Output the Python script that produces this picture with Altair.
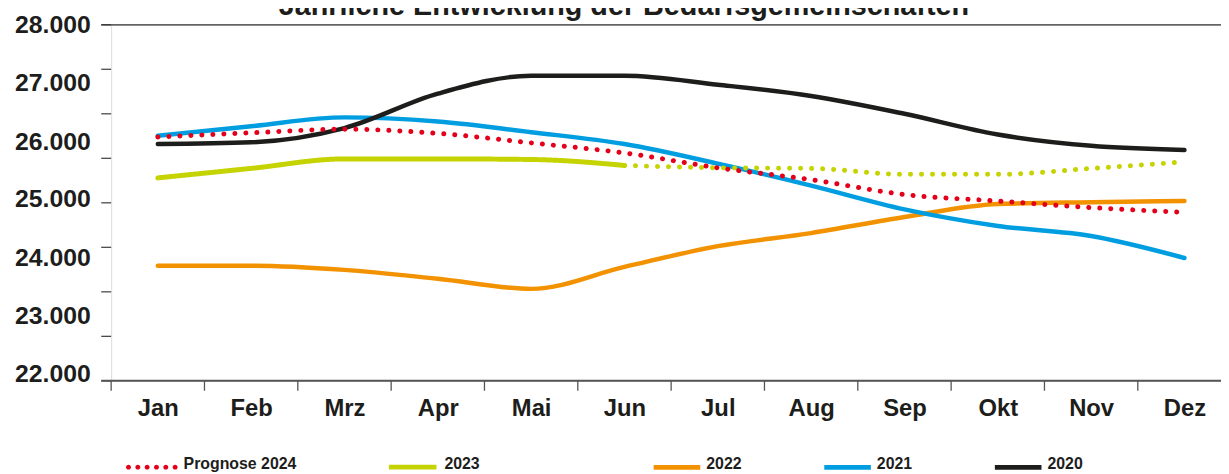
import json
import altair as alt
import pandas as pd

# ---------------- data ----------------
title_text = "Jährliche Entwicklung der Bedarfsgemeinschaften"
months = ["Jan", "Feb", "Mrz", "Apr", "Mai", "Jun", "Jul", "Aug", "Sep", "Okt", "Nov", "Dez"]

prognose_2024 = [26110, 26180, 26240, 26170, 26010, 25840, 25590, 25390, 25140, 25030, 24920, 24840]
werte_2023 = [25420, 25580, 25740, 25740, 25730, 25630]                 # Jan - Jun
werte_2023_rest = [25630, 25590, 25580, 25480, 25480, 25580, 25690]     # Jun - Dez (punktiert)
werte_2022 = [23940, 23940, 23870, 23720, 23550, 23920, 24270, 24490, 24760, 24980, 25010, 25030]
werte_2021 = [26130, 26290, 26440, 26370, 26190, 25990, 25660, 25290, 24890, 24610, 24440, 24070]
werte_2020 = [25990, 26020, 26260, 26840, 27140, 27140, 26990, 26800, 26500, 26150, 25960, 25890]

y_labels = [22000, 23000, 24000, 25000, 26000, 27000, 28000]
y_tick_marks = [22000, 22750, 23500, 24250, 25000, 25750, 26500, 27250, 28000]

series_a = ["Prognose 2024", "2023"]
series_b = ["2022", "2021", "2020"]

# ---------------- styles ----------------
FONT = "Liberation Sans"
TXT = "#1d1d1b"
RED, GREEN, ORANGE, BLUE, BLACK = "#e2001a", "#c5d300", "#f39200", "#009ee0", "#1d1d1b"
BG = "#f2f5dc"
W, H = 1119, 359
BAND = 94.1

label_shift = {28000: 0, 27000: -1.5, 26000: -2.2, 25000: -4.5, 24000: -4.8, 23000: -6, 22000: -7.5}

# legend symbol shapes (unit coordinates)
R = 0.096
DY_A = 0.115
_dots = ""
for k in range(6):
    cx = -1 + R + k * (2 - 2 * R) / 5
    _dots += f"M{cx - R:.3f},{DY_A}a{R},{R} 0 1,0 {2 * R},0a{R},{R} 0 1,0 {-2 * R},0"
DOTS_PATH = _dots
BAR_A_PATH = f"M-0.923,{DY_A - 0.096:.3f}L0.923,{DY_A - 0.096:.3f}L0.923,{DY_A + 0.096:.3f}L-0.923,{DY_A + 0.096:.3f}Z"
BAR_B_PATH = "M-1,0.022L1,0.022L1,0.234L-1,0.234Z"


def rows(name, values, start=0):
    return [{"serie": name, "idx": start + i, "monat": months[start + i], "wert": v}
            for i, v in enumerate(values)]


df_a = pd.DataFrame(rows("Prognose 2024", prognose_2024) + rows("2023", werte_2023))
df_b = pd.DataFrame(rows("2022", werte_2022) + rows("2021", werte_2021) + rows("2020", werte_2020))
df_rest = pd.DataFrame(rows("2023", werte_2023_rest, start=5))

xscale = alt.Scale(domain=[-0.5, -0.5 + W / BAND], nice=False, zero=False)
yscale = alt.Scale(domain=[y_labels[0], y_labels[-1]], nice=False, zero=False)

x_axis = alt.Axis(
    values=list(range(len(months))),
    labelExpr=json.dumps(months) + "[datum.value]",
    ticks=False, tickSize=0, domain=False, grid=False, title=None,
    labelFont=FONT, labelFontSize=24, labelFontWeight="bold", labelColor=TXT,
    labelPadding=35, labelBaseline="alphabetic", labelAngle=0,
    labelFlush=False, labelOverlap=False,
)
y_axis = alt.Axis(
    values=y_labels,
    labelExpr="replace(format(datum.value, ','), ',', '.')",
    ticks=False, tickSize=0, domain=False, grid=False, title=None,
    labelFont=FONT, labelFontSize=25, labelFontWeight="bold", labelColor=TXT,
    labelPadding=21, labelBaseline="middle", labelFlush=False, labelOverlap=False,
    labelOffset={"condition": [{"test": f"datum.value == {k}", "value": v} for k, v in label_shift.items()],
                 "value": 0},
)


def X(field):
    return alt.X(field, scale=xscale, axis=x_axis)


def Y(field):
    return alt.Y(field, scale=yscale, axis=y_axis)


def legend(x, y, pad, size):
    return alt.Legend(
        orient="none", legendX=x, legendY=y, direction="horizontal", title=None,
        symbolSize=size, symbolStrokeWidth=0,
        labelFont=FONT, labelFontSize=16, labelFontWeight="bold", labelColor=TXT,
        labelOffset=6, columnPadding=pad, padding=0, rowPadding=0,
    )


leg_a = legend(15, 417, 91, 2704)
leg_b = legend(547, 419.5, 83, 2209)

# ---------------- decorations (tick marks, frame lines) ----------------
yticks = alt.Chart(pd.DataFrame({"v": y_tick_marks})).mark_rule(color="#4a4a4a", strokeWidth=1.3).encode(
    y=Y("v:Q"), x=alt.value(-10), x2=alt.value(0))
top_line = alt.Chart(pd.DataFrame({"v": [y_labels[-1]]})).mark_rule(color="#333333", strokeWidth=1.3).encode(
    y=Y("v:Q"), x=alt.value(-10), x2=alt.value(W))
bottom_line = alt.Chart(pd.DataFrame({"v": [y_labels[0]]})).mark_rule(color="#555555", strokeWidth=2).encode(
    y=Y("v:Q"), x=alt.value(-10), x2=alt.value(W))
xticks = alt.Chart(pd.DataFrame({"t": [i - 0.5 for i in range(len(months))]})).mark_rule(
    color="#555555", strokeWidth=1.3).encode(
    x=X("t:Q"), y=alt.value(H), y2=alt.value(H + 10))

# ---------------- lines ----------------
lines_b = alt.Chart(df_b).mark_line(strokeWidth=4.5, strokeCap="round", strokeJoin="round",
                                    interpolate="monotone").encode(
    x=X("idx:Q"), y=Y("wert:Q"),
    color=alt.Color("serie:N", scale=alt.Scale(domain=series_b, range=[ORANGE, BLUE, BLACK]), legend=None),
    order=alt.Order("idx:Q"),
)

rest_2023 = alt.Chart(df_rest).mark_line(strokeWidth=5, strokeCap="round", strokeDash=[0.1, 11],
                                          color=GREEN, interpolate="monotone").encode(
    x=X("idx:Q"), y=Y("wert:Q"),
)

lines_a = alt.Chart(df_a).mark_line(strokeWidth=5, strokeCap="round", strokeJoin="round",
                                    interpolate="monotone").encode(
    x=X("idx:Q"), y=Y("wert:Q"),
    color=alt.Color("serie:N", scale=alt.Scale(domain=series_a, range=[RED, GREEN]), legend=None),
    strokeDash=alt.StrokeDash("serie:N", scale=alt.Scale(domain=series_a, range=[[0.1, 11], [1, 0]]),
                              legend=None),
    order=alt.Order("idx:Q"),
)

# ---------------- legends (symbols only, no marks drawn) ----------------
empty = pd.DataFrame({"serie": pd.Series([], dtype=str)})
legend_a = alt.Chart(empty).mark_point(filled=True, opacity=1, size=2704, strokeWidth=0).encode(
    x=alt.value(0), y=alt.value(0),
    color=alt.Color("serie:N", scale=alt.Scale(domain=series_a, range=[RED, GREEN]), legend=leg_a),
    shape=alt.Shape("serie:N", scale=alt.Scale(domain=series_a, range=[DOTS_PATH, BAR_A_PATH]), legend=leg_a),
)
legend_b = alt.Chart(empty).mark_point(filled=True, opacity=1, size=2209, strokeWidth=0).encode(
    x=alt.value(0), y=alt.value(0),
    color=alt.Color("serie:N", scale=alt.Scale(domain=series_b, range=[ORANGE, BLUE, BLACK]), legend=leg_b),
    shape=alt.Shape("serie:N", scale=alt.Scale(domain=series_b, range=[BAR_B_PATH] * 3), legend=leg_b),
)

title = alt.Chart(pd.DataFrame({"t": [title_text]})).mark_text(
    font=FONT, fontSize=29, fontWeight="bold", color=TXT, align="center", baseline="alphabetic").encode(
    text="t:N", x=alt.value(517), y=alt.value(-10))

chart = alt.layer(
    yticks, top_line, bottom_line, xticks, lines_b, rest_2023, lines_a, legend_a, legend_b, title
).resolve_scale(
    color="independent", strokeDash="independent", shape="independent"
).properties(
    width=W, height=H,
    autosize=alt.AutoSizeParams(type="none"),
    padding={"left": 104, "top": 15, "right": 0, "bottom": 92},
).configure_view(
    fill=BG, stroke=None
).configure(
    background="white"
)

chart.save("out.html", embed_options={"renderer": "svg", "actions": False})
